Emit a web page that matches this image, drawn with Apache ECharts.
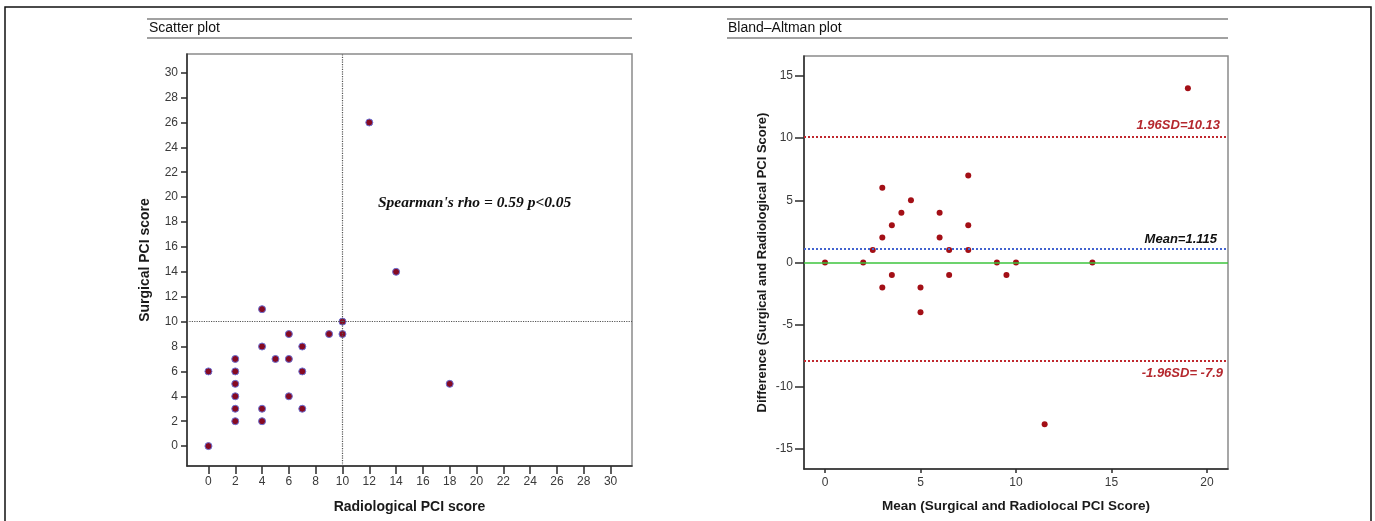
<!doctype html>
<html>
<head>
<meta charset="UTF-8">
<title>PCI scatter and Bland-Altman</title>
<style>
    body { margin: 0; padding: 0; background: #fff; }
    #main { width: 1375px; height: 521px; }
</style>
</head>
<body>
<div id="main"></div>
<script src="https://cdn.jsdelivr.net/npm/echarts@6/dist/echarts.min.js"></script>
<script>
// scatter plot data
var radiologicalPCI = [0, 0, 2, 2, 2, 2, 2, 2, 4, 4, 4, 4, 5, 6, 6, 6, 7, 7, 7, 9, 10, 10, 12, 14, 18];
var surgicalPCI     = [6, 0, 7, 6, 5, 4, 3, 2, 11, 8, 3, 2, 7, 9, 7, 4, 8, 6, 3, 9, 10, 9, 26, 14, 5];
var scatterTicks = [0, 2, 4, 6, 8, 10, 12, 14, 16, 18, 20, 22, 24, 26, 28, 30];
var cutOff = 10;

// bland-altman data
var meanPCI = [0, 2, 2.5, 3, 3, 3, 3.5, 3.5, 4, 4.5, 5, 5, 6, 6, 6.5, 6.5, 7.5, 7.5, 7.5, 9, 9.5, 10, 11.5, 14, 19];
var diffPCI = [0, 0, 1, 6, 2, -2, 3, -1, 4, 5, -2, -4, 4, 2, 1, -1, 7, 3, 1, 0, -1, 0, -13, 0, 14];
var meanTicks = [0, 5, 10, 15, 20];
var diffTicks = [-15, -10, -5, 0, 5, 10, 15];
var meanDiff = 1.115;
var upperLoA = 10.13;
var lowerLoA = -7.9;

var scatterPts = radiologicalPCI.map(function (x, i) { return [x, surgicalPCI[i]]; });
var baPts = meanPCI.map(function (x, i) { return [x, diffPCI[i]]; });

var narrow = "'Liberation Sans Narrow', 'Arial Narrow', 'Liberation Sans', Arial, sans-serif";
var sans = "'Liberation Sans', Arial, sans-serif";

function axisBase(ticks, tickLen, margin, font) {
    return {
        type: 'value',
        splitLine: { show: false },
        axisLine: { show: true, onZero: false, lineStyle: { color: '#2b2b2b', width: 1.5 } },
        axisTick: { show: true, length: tickLen, customValues: ticks, lineStyle: { color: '#2b2b2b', width: 1.5 } },
        axisLabel: { customValues: ticks, margin: margin, color: '#3a3a3a', fontSize: 12, fontFamily: font },
        nameLocation: 'middle',
        nameTextStyle: { color: '#1a1a1a', fontSize: 14, fontWeight: 'bold', fontFamily: sans }
    };
}

var xs1 = axisBase(scatterTicks, 8, 10, narrow);
xs1.gridIndex = 0; xs1.min = -1.6; xs1.max = 31.6;
xs1.name = 'Radiological PCI score'; xs1.nameGap = 34;

var ys1 = axisBase(scatterTicks, 6, 9, narrow);
ys1.gridIndex = 0; ys1.min = -1.6; ys1.max = 31.5;
ys1.name = 'Surgical PCI score'; ys1.nameGap = 35;

var xs2 = axisBase(meanTicks, 4, 8, sans);
xs2.gridIndex = 1; xs2.min = -1.1; xs2.max = 21.1;
xs2.name = 'Mean (Surgical and Radiolocal PCI Score)'; xs2.nameGap = 30;
xs2.nameTextStyle = Object.assign({}, xs2.nameTextStyle, { fontSize: 13.5 });

var ys2 = axisBase(diffTicks, 9, 11, sans);
ys2.gridIndex = 1; ys2.min = -16.6; ys2.max = 16.6;
ys2.name = 'Difference (Surgical and Radiological PCI Score)'; ys2.nameGap = 35;
ys2.nameTextStyle = Object.assign({}, ys2.nameTextStyle, { fontSize: 13 });

var lblStyle = { fontSize: 13, fontWeight: 'bold', fontStyle: 'italic', fontFamily: sans };

var option = {
    backgroundColor: '#fff',
    animation: false,
    grid: [
        { left: 187, top: 54, width: 445, height: 412, show: true, borderColor: '#8a8a8a', borderWidth: 1.5 },
        { left: 804, top: 56, width: 424, height: 413, show: true, borderColor: '#8a8a8a', borderWidth: 1.5 }
    ],
    xAxis: [xs1, xs2],
    yAxis: [ys1, ys2],
    graphic: [
        { type: 'rect', shape: { x: 5, y: 7, width: 1366, height: 520 }, style: { fill: 'none', stroke: '#111', lineWidth: 1.5 } },
        { type: 'line', shape: { x1: 147, y1: 19, x2: 632, y2: 19 }, style: { stroke: '#444', lineWidth: 1.2 } },
        { type: 'line', shape: { x1: 147, y1: 38, x2: 632, y2: 38 }, style: { stroke: '#444', lineWidth: 1.2 } },
        { type: 'text', left: 149, top: 21, style: { text: 'Scatter plot', fontSize: 14, fontFamily: sans, fill: '#111' } },
        { type: 'line', shape: { x1: 727, y1: 19, x2: 1228, y2: 19 }, style: { stroke: '#444', lineWidth: 1.2 } },
        { type: 'line', shape: { x1: 727, y1: 38, x2: 1228, y2: 38 }, style: { stroke: '#444', lineWidth: 1.2 } },
        { type: 'text', left: 728, top: 21, style: { text: 'Bland\u2013Altman plot', fontSize: 14, fontFamily: sans, fill: '#111' } },
        { type: 'text', left: 378, top: 195, style: {
            text: "Spearman's rho = 0.59 p<0.05", fontSize: 15.5, fontWeight: 'bold', fontStyle: 'italic',
            fontFamily: "'Liberation Serif', 'Times New Roman', serif", fill: '#111' } }
    ],
    series: [
        {
            type: 'scatter',
            xAxisIndex: 0, yAxisIndex: 0,
            data: scatterPts,
            symbolSize: 7,
            itemStyle: { color: '#860a22', borderColor: '#6c70d4', borderWidth: 1, opacity: 1 },
            markLine: {
                silent: true, symbol: 'none', label: { show: false },
                lineStyle: { color: '#555', type: 'dotted', width: 1.2 },
                data: [{ xAxis: cutOff }, { yAxis: cutOff }]
            }
        },
        {
            type: 'scatter',
            xAxisIndex: 1, yAxisIndex: 1,
            data: baPts,
            symbolSize: 6,
            itemStyle: { color: '#a30f16', opacity: 1 },
            markLine: {
                silent: true, symbol: 'none',
                data: [
                    { yAxis: upperLoA, lineStyle: { color: '#c0282e', type: 'dotted', width: 2 },
                      label: Object.assign({ show: true, position: 'insideEndTop', distance: [8, 5], color: '#b5282e', formatter: '1.96SD=10.13' }, lblStyle) },
                    { yAxis: meanDiff, lineStyle: { color: '#4263cf', type: 'dotted', width: 2 },
                      label: Object.assign({ show: true, position: 'insideEndTop', distance: [11, 3], color: '#111', formatter: 'Mean=1.115' }, lblStyle) },
                    { yAxis: 0, lineStyle: { color: '#3cc43c', type: 'solid', width: 1.5 }, label: { show: false } },
                    { yAxis: lowerLoA, lineStyle: { color: '#c0282e', type: 'dotted', width: 2 },
                      label: Object.assign({ show: true, position: 'insideEndBottom', distance: [5, 6], color: '#b5282e', formatter: '-1.96SD= -7.9' }, lblStyle) }
                ]
            }
        }
    ]
};

var chart = echarts.init(document.getElementById('main'));
chart.setOption(option);
</script>
</body>
</html>
